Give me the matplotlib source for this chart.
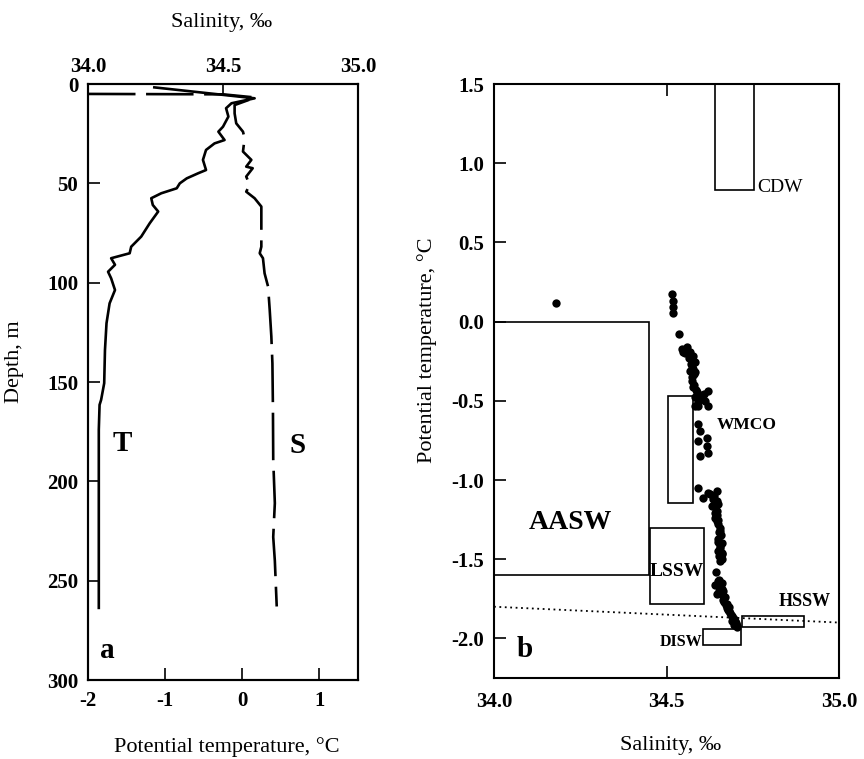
import matplotlib
matplotlib.use('Agg')
import matplotlib.pyplot as plt
from matplotlib.patches import Rectangle

plt.rcParams['font.family'] = ['Liberation Serif', 'DejaVu Serif']

# ---------------- Panel a: profiles ----------------
t_depth = [1.7, 7.2, 9.7, 12.2, 16.4, 21.5, 24.0, 28.2, 29.9, 33.2, 38.2, 43.3, 44.9, 47.5,
           50.0, 52.5, 55.0, 57.5, 60.9, 64.2, 70.1, 76.8, 81.9, 85.2, 87.7, 91.0, 94.5,
           97.8, 103.7, 110.4, 120.4, 133.9, 150.6, 159.0, 161.5, 174.0, 210.0, 240.0, 263.7]
t_temp = [-1.14, 0.16, -0.14, -0.21, -0.18, -0.25, -0.31, -0.23, -0.36, -0.47, -0.51, -0.47,
          -0.57, -0.72, -0.81, -0.85, -1.05, -1.18, -1.16, -1.09, -1.20, -1.31, -1.44, -1.46,
          -1.70, -1.65, -1.74, -1.70, -1.65, -1.72, -1.76, -1.78, -1.79, -1.83, -1.85, -1.86,
          -1.86, -1.86, -1.86]

s_depth = [5.0, 5.2, 6.8, 10.6, 14.8, 19.8, 24.0, 27.3, 34.0, 38.2, 41.6, 42.4, 46.6, 50.8,
           54.2, 57.5, 61.7, 65.0, 71.0, 81.9, 85.2, 87.7, 95.3, 102.0, 113.7, 127.0, 140.6,
           164.0, 189.0, 211.0, 228.0, 240.0, 263.0]
s_sal = [34.00, 34.50, 34.62, 34.543, 34.543, 34.549, 34.574, 34.58, 34.574, 34.605, 34.586,
         34.61, 34.586, 34.599, 34.586, 34.617, 34.642, 34.642, 34.642, 34.642, 34.636, 34.648,
         34.654, 34.667, 34.673, 34.679, 34.683, 34.685, 34.686, 34.692, 34.686, 34.692, 34.699]

depth_ticks = [0, 50, 100, 150, 200, 250, 300]
temp_ticks = [-2, -1, 0, 1]
sal_ticks = [34.0, 34.5, 35.0]

# ---------------- Panel b: T-S diagram ----------------
ts_sal = [34.18,
          34.517, 34.52, 34.52, 34.52, 34.536, 34.544, 34.558, 34.549, 34.568, 34.578, 34.573,
          34.583, 34.578, 34.568, 34.583, 34.573, 34.578, 34.587, 34.621, 34.602, 34.583, 34.592,
          34.612, 34.621, 34.583, 34.592, 34.597, 34.616, 34.592, 34.616, 34.621, 34.597,
          34.592, 34.607, 34.626, 34.646, 34.646, 34.631, 34.646, 34.641, 34.65, 34.655, 34.65,
          34.655, 34.65, 34.637, 34.65, 34.645, 34.655, 34.658, 34.66, 34.66, 34.652,
          34.643,
          34.652, 34.66, 34.655, 34.665, 34.66, 34.67, 34.665, 34.675, 34.68, 34.678, 34.685,
          34.69, 34.695, 34.70, 34.703, 34.69, 34.64, 34.645,
          34.555, 34.565, 34.57, 34.575, 34.58, 34.575, 34.58, 34.585, 34.59, 34.60, 34.61,
          34.595, 34.59,
          34.62, 34.635, 34.64, 34.64, 34.645, 34.65, 34.652, 34.648, 34.655, 34.662, 34.66,
          34.655,
          34.648, 34.655, 34.66, 34.652, 34.665, 34.668, 34.672, 34.675, 34.682, 34.688,
          34.692, 34.698, 34.70, 34.705, 34.697]
ts_temp = [0.12,
           0.175, 0.128, 0.09, 0.053, -0.078, -0.173, -0.163, -0.194, -0.194, -0.215, -0.247,
           -0.257, -0.30, -0.31, -0.32, -0.373, -0.416, -0.447, -0.437, -0.468, -0.479, -0.51,
           -0.50, -0.532, -0.532, -0.647, -0.69, -0.732, -0.753, -0.785, -0.827, -0.848,
           -1.049, -1.112, -1.09, -1.07, -1.133, -1.165, -1.196, -1.239, -1.28, -1.323, -1.375,
           -1.418, -1.449, -1.10, -1.15, -1.22, -1.30, -1.35, -1.40, -1.46, -1.48,
           -1.58,
           -1.63, -1.65, -1.68, -1.70, -1.72, -1.74, -1.76, -1.78, -1.80, -1.82, -1.84,
           -1.86, -1.88, -1.90, -1.92, -1.89, -1.66, -1.72,
           -0.20, -0.23, -0.27, -0.28, -0.33, -0.35, -0.40, -0.43, -0.46, -0.48, -0.46,
           -0.49, -0.53,
           -1.08, -1.12, -1.17, -1.21, -1.26, -1.25, -1.33, -1.39, -1.43, -1.47, -1.50,
           -1.51,
           -1.64, -1.66, -1.69, -1.70, -1.73, -1.77, -1.79, -1.81, -1.83, -1.85,
           -1.87, -1.89, -1.91, -1.93, -1.915]

box_names = ['CDW', 'AASW', 'WMCO', 'LSSW', 'HSSW', 'DISW']
box_smin = [34.64, 34.0, 34.505, 34.452, 34.72, 34.605]
box_smax = [34.754, 34.45, 34.577, 34.61, 34.90, 34.715]
box_tmin = [0.83, -1.6, -1.145, -1.78, -1.93, -2.04]
box_tmax = [1.5, 0.0, -0.47, -1.30, -1.86, -1.94]

freeze_sal = [34.0, 35.0]
freeze_temp = [-1.80, -1.90]

ts_xticks = [34.0, 34.5, 35.0]
ts_yticks = [1.5, 1.0, 0.5, 0.0, -0.5, -1.0, -1.5, -2.0]

# ---------------- Figure ----------------
W, H = 864, 759
fig = plt.figure(figsize=(W / 100, H / 100), dpi=100)

def fx(px):
    return px / W

def fy(py):
    return 1 - py / H

tick_kw = dict(direction='in', length=8.5, width=1.2, labelsize=15)
tick_font = dict(weight='bold')

# Panel a
axA = fig.add_axes([fx(88), fy(680), fx(358) - fx(88), fy(84) - fy(680)])
axA.plot(t_temp, t_depth, color='black', lw=1.9)
axA.set_xlim(-2, 1.5)
axA.set_ylim(300, 0)
axA.set_xticks(temp_ticks)
axA.set_xticklabels([str(t) for t in temp_ticks], **tick_font)
axA.set_yticks(depth_ticks)
axA.set_yticklabels([str(d) for d in depth_ticks], **tick_font)
axA.tick_params(axis='x', pad=8, **tick_kw)
axA.tick_params(axis='y', pad=7, **tick_kw)

axS = axA.twiny()
axS.plot(s_sal, s_depth, color='black', lw=1.9, dashes=(18, 4))
axS.set_xlim(34, 35)
axS.set_ylim(300, 0)
axS.set_xticks(sal_ticks)
axS.set_xticklabels(['%.1f' % s for s in sal_ticks], **tick_font)
axS.tick_params(axis='x', pad=5, **tick_kw)

for ax in (axA, axS):
    for sp in ax.spines.values():
        sp.set_linewidth(1.5)

axA.text(-1.56, 181, 'T', fontsize=21, weight='bold', ha='center', va='center')
axA.text(0.72, 182, 'S', fontsize=21, weight='bold', ha='center', va='center')
axA.text(-1.75, 285, 'a', fontsize=21, weight='bold', ha='center', va='center')

# Panel b
axB = fig.add_axes([fx(494), fy(678), fx(839) - fx(494), fy(84) - fy(678)])
axB.scatter(ts_sal, ts_temp, s=36, color='black', zorder=3, linewidths=0)
for n, s0, s1, t0, t1 in zip(box_names, box_smin, box_smax, box_tmin, box_tmax):
    axB.add_patch(Rectangle((s0, t0), s1 - s0, t1 - t0, fill=False,
                            edgecolor='black', lw=1.2, zorder=2))
axB.plot(freeze_sal, freeze_temp, color='black', lw=1.3, linestyle=(0, (1, 2)))
axB.set_xlim(34, 35)
axB.set_ylim(-2.25, 1.5)
axB.set_xticks(ts_xticks)
axB.set_xticklabels(['%.1f' % s for s in ts_xticks], **tick_font)
axB.set_yticks(ts_yticks)
axB.set_yticklabels(['%.1f' % t for t in ts_yticks], **tick_font)
axB.tick_params(axis='x', pad=10, top=True, **tick_kw)
axB.tick_params(axis='y', pad=7, **tick_kw)
for sp in axB.spines.values():
    sp.set_linewidth(1.5)

axB.text(34.22, -1.27, 'AASW', fontsize=20, weight='bold', ha='center', va='center')
axB.text(34.646, -0.652, 'WMCO', fontsize=12.5, weight='bold', ha='left', va='center')
axB.text(34.764, 0.848, 'CDW', fontsize=14, ha='left', va='center')
axB.text(34.452, -1.58, 'LSSW', fontsize=14, weight='bold', ha='left', va='center')
axB.text(34.90, -1.77, 'HSSW', fontsize=13, weight='bold', ha='center', va='center')
axB.text(34.603, -2.02, 'DISW', fontsize=11.5, weight='bold', ha='right', va='center')
axB.text(34.09, -2.07, 'b', fontsize=21, weight='bold', ha='center', va='center')

# Axis titles
lab = 16
fig.text(fx(222), fy(27), 'Salinity, ‰', fontsize=lab, ha='center', va='baseline')
fig.text(fx(227), fy(752), 'Potential temperature, °C', fontsize=lab, ha='center', va='baseline')
fig.text(fx(14), fy(362), 'Depth, m', fontsize=lab, ha='center', va='center', rotation=90)
fig.text(fx(427), fy(350), 'Potential temperature, °C', fontsize=lab, ha='center',
         va='center', rotation=90)
fig.text(fx(671), fy(750), 'Salinity, ‰', fontsize=lab, ha='center', va='baseline')

fig.savefig('out.png', dpi=100)
